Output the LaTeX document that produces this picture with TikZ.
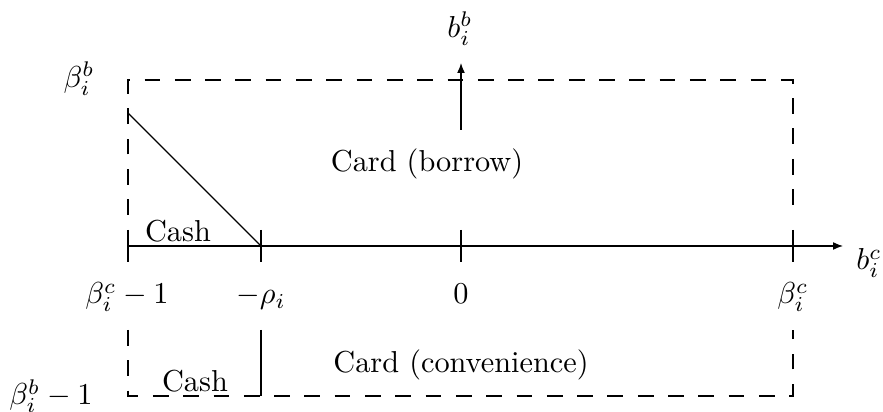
\documentclass[tikz,border=0pt]{standalone}
\usetikzlibrary{arrows.meta}
\begin{document}
\begin{tikzpicture}[x=0.33pt,y=-0.33pt,
  dsh/.style={dash pattern=on 5.2pt off 4.8pt},
  lbl/.style={inner sep=0pt,anchor=base},
  tip/.style={-{Latex[length=3.3pt,width=2.6pt]}}]
\useasboundingbox (0,0) rectangle (883,412);
% coordinates
\coordinate (ULa) at (128,215); \coordinate (UL) at (128,80);
\coordinate (UR) at (793,80); \coordinate (URa) at (793,215);
\coordinate (LLa) at (128,330); \coordinate (LL) at (128,396);
\coordinate (LR) at (793,396); \coordinate (LRa) at (793,330);
\coordinate (A0) at (128,246); \coordinate (A1) at (843,246);
\coordinate (T1a) at (128,230); \coordinate (T1b) at (128,262);
\coordinate (T2a) at (261,230); \coordinate (T2b) at (261,262);
\coordinate (T3a) at (461,230); \coordinate (T3b) at (461,262);
\coordinate (T4a) at (793,230); \coordinate (T4b) at (793,262);
\coordinate (D0) at (128,113); \coordinate (D1) at (261,246);
\coordinate (V0) at (461,130); \coordinate (V1) at (461,63);
\coordinate (S0) at (261,330); \coordinate (S1) at (261,396);
% dashed box
\draw[dsh] (ULa) -- (UL) -- (UR) -- (URa);
\draw[dsh] (LLa) -- (LL) -- (LR) -- (LRa);
% axis and ticks
\draw[tip] (A0) -- (A1);
\draw (T1a) -- (T1b);
\draw (T2a) -- (T2b);
\draw (T3a) -- (T3b);
\draw (T4a) -- (T4b);
\draw (D0) -- (D1);
\draw[tip] (V0) -- (V1);
\draw (S0) -- (S1);
% labels
\node[lbl] (bb) at (460,38) {$b_i^b$};
\node[lbl] (bc) at (869,270) {$b_i^c$};
\node[lbl] (Bb) at (79,88) {$\beta_i^b$};
\node[lbl] (Bb1) at (51,405) {$\beta_i^b-1$};
\node[lbl] (Bc1) at (127,304) {$\beta_i^c-1$};
\node[lbl] (rho) at (261,304) {$-\rho_i$};
\node[lbl] (zero) at (461,304) {$0$};
\node[lbl] (Bc) at (793,304) {$\beta_i^c$};
\node[lbl] (borrow) at (427,172) {Card (borrow)};
\node[lbl] (conv) at (461,372) {Card (convenience)};
\node[lbl] (cash1) at (178,242) {Cash};
\node[lbl] (cash2) at (195,392) {Cash};
\end{tikzpicture}
\end{document}
